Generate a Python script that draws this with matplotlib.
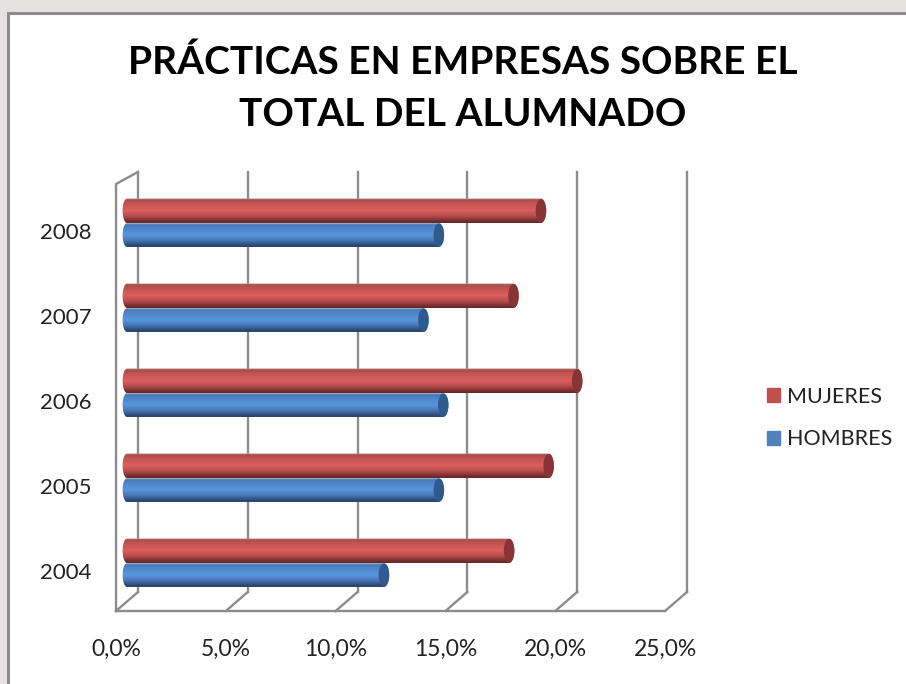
import matplotlib
matplotlib.use("Agg")
import matplotlib.pyplot as plt
from matplotlib.colors import LinearSegmentedColormap
from matplotlib.patches import Patch, PathPatch, Rectangle, Ellipse
from matplotlib.path import Path
import numpy as np

years = ["2004", "2005", "2006", "2007", "2008"]
mujeres = [17.4, 19.2, 20.5, 17.6, 18.85]
hombres = [11.7, 14.2, 14.4, 13.5, 14.2]
x_ticks = [0, 5, 10, 15, 20, 25]
x_labels = ["0,0%", "5,0%", "10,0%", "15,0%", "20,0%", "25,0%"]
title = "PRÁCTICAS EN EMPRESAS SOBRE EL\nTOTAL DEL ALUMNADO"

W, H = 906, 684
PX_X = 21.96   # pixels per percent point
PX_Y = 85.0    # pixels per category
X0 = 127       # pixel of 0 %
Y0 = 563       # pixel of the first category
DEPTH = 0.5    # half depth of the 3d box, in percent
FLOOR_FRONT = -0.565
FLOOR_BACK = -0.341
TOP_FRONT = 4.459
TOP_BACK = 4.6
GRID = "#8c8c8c"

plt.rcParams["font.family"] = ["Lato", "DejaVu Sans"]

RED_STOPS = [(0, "#b9a0a0"), (0.06, "#a94c4c"), (0.25, "#c85555"), (0.5, "#dc5f5f"),
             (0.72, "#b84c4c"), (0.9, "#7d3030"), (1, "#602828")]
BLUE_STOPS = [(0, "#a8b8cc"), (0.06, "#4a7ab8"), (0.25, "#4f88cc"), (0.5, "#5a95dc"),
              (0.72, "#4878b8"), (0.9, "#2f5080"), (1, "#28405f")]
red_map = LinearSegmentedColormap.from_list("red3d", RED_STOPS)
blue_map = LinearSegmentedColormap.from_list("blue3d", BLUE_STOPS)


def cylinder(ax, y_low, y_high, value, cmap, cap_color):
    # horizontal cylinder: gradient image clipped to a shape with round ends
    rx = 0.24
    t = np.linspace(-np.pi / 2, np.pi / 2, 30)
    mid = (y_low + y_high) / 2
    ry = (y_high - y_low) / 2
    right = np.column_stack([value + rx * np.cos(t), mid + ry * np.sin(t)])
    left = np.column_stack([-0.2 * np.cos(t[::-1]), mid + ry * np.sin(t[::-1])])
    verts = np.vstack([right, left, right[:1]])
    shape = Path(verts)
    grad = np.linspace(0, 1, 64).reshape(-1, 1)
    img = ax.imshow(grad, cmap=cmap, aspect="auto", zorder=3, interpolation="bilinear",
                    extent=[-rx, value + rx, y_low, y_high])
    img.set_clip_path(PathPatch(shape, transform=ax.transData))
    ax.add_patch(Ellipse((value, mid), 2 * rx, 2 * ry * 0.96, color=cap_color, lw=0, zorder=4))


fig = plt.figure(figsize=(W / 100, H / 100), dpi=100, facecolor="#e6e2e2")
ax = fig.add_axes([0, 0, 1, 1])
ax.set_xlim(-X0 / PX_X, (W - X0) / PX_X)
ax.set_ylim((Y0 - H) / PX_Y, Y0 / PX_Y)
ax.axis("off")

# chart frame, below the axes
fig.patches.append(Rectangle((8 / W, -0.02), 1.02, 1.0 - 13 / H + 0.02, transform=fig.transFigure,
                             facecolor="white", edgecolor="#8c8c8c", lw=2.2, zorder=-1))

# 3d box
for v in x_ticks:
    ax.plot([v + DEPTH, v + DEPTH], [FLOOR_BACK, TOP_BACK], color=GRID, lw=1.7, zorder=1)
    ax.plot([v - DEPTH, v + DEPTH], [FLOOR_FRONT, FLOOR_BACK], color=GRID, lw=1.7, zorder=1)
ax.plot([-DEPTH, 25 - DEPTH], [FLOOR_FRONT, FLOOR_FRONT], color=GRID, lw=1.7, zorder=1)
ax.plot([-DEPTH, -DEPTH, DEPTH], [FLOOR_FRONT, TOP_FRONT, TOP_BACK], color=GRID, lw=1.7, zorder=1)

for i in range(len(years)):
    cylinder(ax, i, i + 0.288, mujeres[i], red_map, "#883434")
    cylinder(ax, i - 0.282, i, hombres[i], blue_map, "#2f5a90")
    ax.text(-DEPTH - 1.1, i - 0.118, years[i], ha="right", va="center", fontsize=16, color="#222222")

ax.set_xlim(-X0 / PX_X, (W - X0) / PX_X)
ax.set_ylim((Y0 - H) / PX_Y, Y0 / PX_Y)

for v, lab in zip(x_ticks, x_labels):
    ax.text(v - DEPTH, -1.02, lab, ha="center", va="center", fontsize=16.5, color="#222222")

fig.text(463 / W, 1 - 88.5 / H, title, ha="center", va="center", fontsize=28, fontweight="bold",
         color="black", linespacing=1.57)

handles = [Patch(color="#c0504d", label="MUJERES"), Patch(color="#4f81bd", label="HOMBRES")]
fig.legend(handles=handles, loc="center left", bbox_to_anchor=(767 / W, 1 - 418 / H), frameon=False,
           fontsize=15.5, handlelength=0.6, handleheight=0.6, handletextpad=0.35, labelspacing=1.05,
           labelcolor="#222222", borderpad=0, borderaxespad=0)

fig.savefig("out.png", dpi=100, facecolor=fig.get_facecolor())
